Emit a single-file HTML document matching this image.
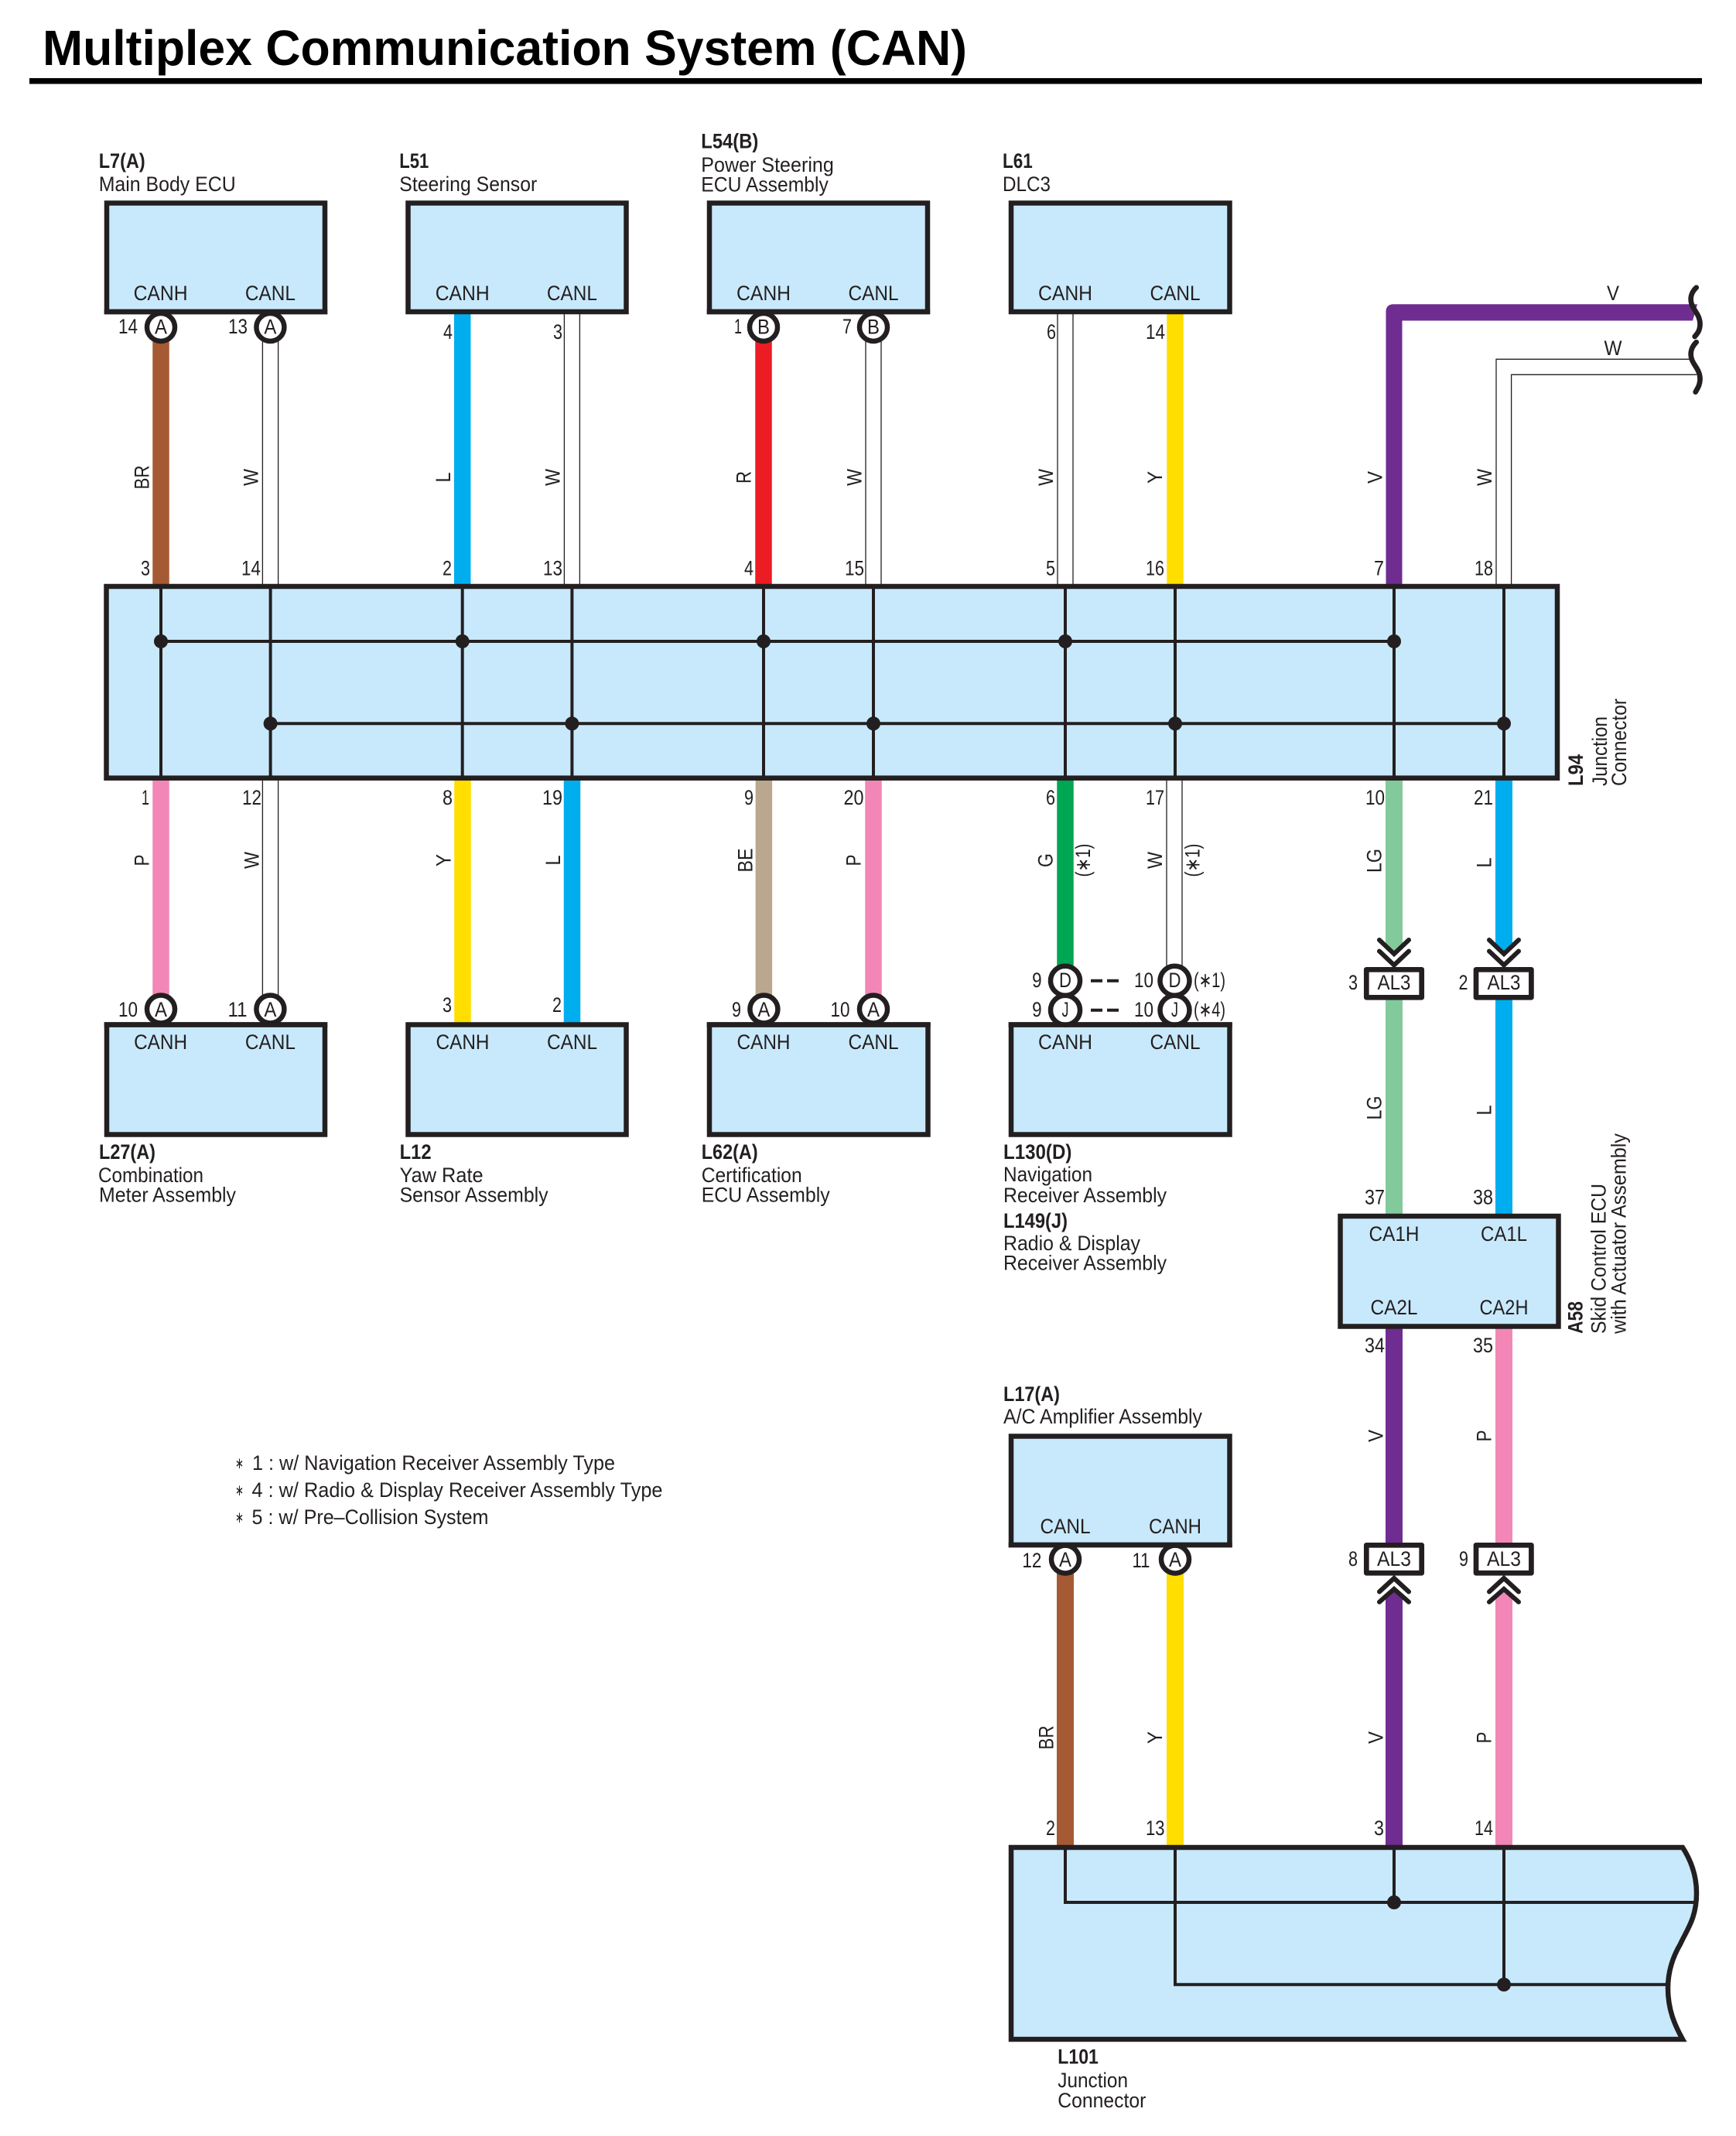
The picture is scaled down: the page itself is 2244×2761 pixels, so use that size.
<!DOCTYPE html>
<html><head><meta charset="utf-8"><style>
html,body{margin:0;padding:0;background:#fff}
svg{display:block}
text{font-family:"Liberation Sans",sans-serif;font-size:27px;fill:#231F20}
.b{font-weight:bold}
.m{text-anchor:middle}
.e{text-anchor:end}
.box{fill:#C8E9FB;stroke:#231F20;stroke-width:6.5;stroke-linejoin:miter}
.c{fill:#fff;stroke:#231F20;stroke-width:6.5}
.w{fill:none;stroke:#231F20;stroke-width:1.3}
.k{fill:none;stroke:#231F20;stroke-width:4}
.d{fill:#231F20}
.al{fill:#fff;stroke:#231F20;stroke-width:6.7;stroke-linejoin:round}
.cv{fill:none;stroke:#231F20;stroke-width:6;stroke-linecap:round;stroke-linejoin:miter}
.dash{stroke:#231F20;stroke-width:4;fill:none}
.sq{fill:none;stroke:#231F20;stroke-width:6.7;stroke-linecap:round}
.cw{fill:none;stroke-width:21.5}
</style></head><body>
<svg xmlns="http://www.w3.org/2000/svg" width="2244" height="2761" viewBox="0 0 2244 2761">
<rect width="2244" height="2761" fill="#fff"/>
<text class="b" x="55" y="84" style="font-size:64px;fill:#000" textLength="1195" lengthAdjust="spacingAndGlyphs">Multiplex Communication System (CAN)</text>
<rect x="38" y="101" width="2162" height="7.5" fill="#000"/>

<!-- colored wires, top row -->
<path class="cw" stroke="#A65A33" d="M208 430V758"/>
<path class="cw" stroke="#00AEEF" d="M597.7 400V758"/>
<path class="cw" stroke="#ED1C24" d="M987 430V758"/>
<path class="cw" stroke="#FFDE00" d="M1519 400V758"/>
<path d="M1791.5 758V403Q1791.5 393.2 1801.5 393.2H2194L2188 414.5H1812.5V758Z" fill="#6F2C91"/>
<!-- white wires, top row -->
<path class="w" d="M339.4 440V755M359.6 440V755M729.4 406V755M749.4 406V755M1119 440V755M1139 440V755M1367 406V755M1387 406V755M1934 755V464.3H2184M1953.6 755V484.3H2193"/>

<!-- colored wires, lower row -->
<path class="cw" stroke="#F287B7" d="M208 1005V1295"/>
<path class="cw" stroke="#FFDE00" d="M598 1005V1325"/>
<path class="cw" stroke="#00AEEF" d="M739.5 1005V1325"/>
<path class="cw" stroke="#BBA78F" d="M987.4 1005V1295"/>
<path class="cw" stroke="#F287B7" d="M1129 1005V1295"/>
<path class="cw" stroke="#00A651" d="M1377 1005V1255"/>
<path class="w" d="M339.4 1009V1290M359.6 1009V1290M1508 1009V1250M1528 1009V1250"/>
<polygon fill="#82CA9C" points="1791,1005 1813,1005 1813,1223 1802,1233 1791,1223"/>
<polygon fill="#00AEEF" points="1933,1005 1955,1005 1955,1223 1944,1233 1933,1223"/>
<rect fill="#82CA9C" x="1791" y="1290" width="22" height="285"/>
<rect fill="#00AEEF" x="1933" y="1290" width="22" height="285"/>
<rect fill="#6F2C91" x="1791" y="1712" width="22" height="285"/>
<rect fill="#F287B7" x="1933" y="1712" width="22" height="285"/>
<polygon fill="#6F2C91" points="1802,2054 1813,2064 1813,2390 1791,2390 1791,2064"/>
<polygon fill="#F287B7" points="1944,2054 1955,2064 1955,2390 1933,2390 1933,2064"/>
<path stroke="#A65A33" stroke-width="22" fill="none" d="M1377 2025V2390"/>
<path stroke="#FFDE00" stroke-width="22" fill="none" d="M1519 2025V2390"/>

<!-- top boxes -->
<rect class="box" x="138" y="262.5" width="282" height="140.5"/>
<rect class="box" x="527.5" y="262.5" width="282" height="140.5"/>
<rect class="box" x="917" y="262.5" width="282" height="140.5"/>
<rect class="box" x="1307" y="262.5" width="282.5" height="140.5"/>

<!-- main junction L94 -->
<rect class="box" x="137.5" y="758" width="1875.5" height="247.7"/>
<path class="k" d="M208 758V1006M349.6 758V1006M597.7 758V1006M739.4 758V1006M987 758V1006M1129 758V1006M1377 758V1006M1519 758V1006M1802 758V1006M1944 758V1006"/>
<path class="k" d="M208 829H1802M349.6 935.3H1944"/>
<g class="d">
<circle cx="208" cy="829" r="9"/><circle cx="597.7" cy="829" r="9"/><circle cx="987" cy="829" r="9"/><circle cx="1377" cy="829" r="9"/><circle cx="1802" cy="829" r="9"/>
<circle cx="349.6" cy="935.3" r="9"/><circle cx="739.4" cy="935.3" r="9"/><circle cx="1129" cy="935.3" r="9"/><circle cx="1519" cy="935.3" r="9"/><circle cx="1944" cy="935.3" r="9"/>
</g>

<!-- lower boxes -->
<rect class="box" x="138" y="1324.5" width="282" height="142"/>
<rect class="box" x="527.5" y="1324.5" width="282" height="142"/>
<rect class="box" x="917" y="1324.5" width="282.5" height="142"/>
<rect class="box" x="1307" y="1324.5" width="282.5" height="142"/>

<!-- A58 -->
<rect class="box" x="1732.5" y="1572" width="282" height="142.5"/>
<!-- L17 -->
<rect class="box" x="1307" y="1856.5" width="282.5" height="140.5"/>

<!-- L101 -->
<path class="box" d="M1307 2388H2175C2186 2405 2193 2425 2193 2447C2193 2480 2180 2495 2172 2513C2162 2530 2156 2548 2156 2570C2156 2598 2165 2618 2175 2636H1307Z"/>
<path class="k" d="M1377 2388V2459H2192M1519 2388V2565.3H2156M1802 2388V2459M1944 2388V2565.3"/>
<circle class="d" cx="1802" cy="2459" r="9"/><circle class="d" cx="1944" cy="2565.3" r="9"/>

<!-- circles -->
<circle class="c" cx="208" cy="423" r="18"/><circle class="c" cx="349.4" cy="423" r="18"/>
<circle class="c" cx="987" cy="423" r="18"/><circle class="c" cx="1129" cy="423" r="18"/>
<circle class="c" cx="208" cy="1304.5" r="18"/><circle class="c" cx="349.4" cy="1304.5" r="18"/>
<circle class="c" cx="987.4" cy="1304.5" r="18"/><circle class="c" cx="1129" cy="1304.5" r="18"/>
<circle class="c" cx="1377" cy="1267.7" r="19"/><circle class="c" cx="1518.5" cy="1267.7" r="19"/>
<circle class="c" cx="1377" cy="1305.7" r="19"/><circle class="c" cx="1518.5" cy="1305.7" r="19"/>
<circle class="c" cx="1377" cy="2015.6" r="18"/><circle class="c" cx="1519" cy="2015.6" r="18"/>
<!-- re-stroke box edges over the circles -->
<path stroke="#231F20" stroke-width="6.5" fill="none" d="M134.7 403H423.2M913.7 403H1202.2M134.7 1324.5H423.2M913.7 1324.5H1202.8M1303.7 1324.5H1592.8M1303.7 1997H1592.8"/>

<!-- dashes -->
<path class="dash" d="M1410 1267.7H1425M1431 1267.7H1446M1410 1305.7H1425M1431 1305.7H1446"/>

<!-- AL3 -->
<rect class="al" x="1766.3" y="1253.3" width="71.4" height="36"/><rect class="al" x="1908" y="1253.3" width="71.4" height="36"/>
<rect class="al" x="1766.3" y="1997.3" width="71.4" height="36"/><rect class="al" x="1908" y="1997.3" width="71.4" height="36"/>
<path class="cv" d="M1783 1215L1802 1233L1821 1215M1783 1229.5L1802 1247.5L1821 1229.5M1925 1215L1944 1233L1963 1215M1925 1229.5L1944 1247.5L1963 1229.5"/>
<path class="cv" d="M1783 2057.5L1802 2040L1821 2057.5M1783 2070.7L1802 2054L1821 2070.7M1925 2057.5L1944 2040L1963 2057.5M1925 2070.7L1944 2054L1963 2070.7"/>

<!-- squiggles -->
<path class="sq" d="M2192.7 371.7C2186 378 2184 386 2187 394C2190 402 2198 408 2197.5 420C2197 428 2194 431 2190.7 435"/>
<path class="sq" d="M2192.7 442.3C2186 449 2184 457 2187 465C2190 473 2198 479 2197.5 491C2197 499 2194 502 2191.7 506.7"/>

<!-- top labels -->
<text class="b" x="127.7" y="217" textLength="60" lengthAdjust="spacingAndGlyphs">L7(A)</text>
<text x="127.7" y="247" textLength="177" lengthAdjust="spacingAndGlyphs">Main Body ECU</text>
<text class="b" x="516.3" y="217" textLength="38" lengthAdjust="spacingAndGlyphs">L51</text>
<text x="516.3" y="247" textLength="178" lengthAdjust="spacingAndGlyphs">Steering Sensor</text>
<text class="b" x="906.3" y="191.3" textLength="74" lengthAdjust="spacingAndGlyphs">L54(B)</text>
<text x="906.3" y="222" textLength="171.5" lengthAdjust="spacingAndGlyphs">Power Steering</text>
<text x="906.3" y="247.5" textLength="164.5" lengthAdjust="spacingAndGlyphs">ECU Assembly</text>
<text class="b" x="1296" y="217" textLength="38.7" lengthAdjust="spacingAndGlyphs">L61</text>
<text x="1296" y="247" textLength="62" lengthAdjust="spacingAndGlyphs">DLC3</text>

<g class="top">
<text class="m" x="207.6" y="388" textLength="70" lengthAdjust="spacingAndGlyphs">CANH</text>
<text class="m" x="349.4" y="388" textLength="65" lengthAdjust="spacingAndGlyphs">CANL</text>
<text class="m" x="597.7" y="388" textLength="70" lengthAdjust="spacingAndGlyphs">CANH</text>
<text class="m" x="739.4" y="388" textLength="65" lengthAdjust="spacingAndGlyphs">CANL</text>
<text class="m" x="987" y="388" textLength="70" lengthAdjust="spacingAndGlyphs">CANH</text>
<text class="m" x="1129" y="388" textLength="65" lengthAdjust="spacingAndGlyphs">CANL</text>
<text class="m" x="1377" y="388" textLength="70" lengthAdjust="spacingAndGlyphs">CANH</text>
<text class="m" x="1519" y="388" textLength="65" lengthAdjust="spacingAndGlyphs">CANL</text>
</g>

<!-- circle letters top -->
<text class="m" x="208" y="431.5" textLength="16" lengthAdjust="spacingAndGlyphs">A</text>
<text class="m" x="349.4" y="431.5" textLength="16" lengthAdjust="spacingAndGlyphs">A</text>
<text class="m" x="987" y="431.5" textLength="16" lengthAdjust="spacingAndGlyphs">B</text>
<text class="m" x="1129" y="431.5" textLength="16" lengthAdjust="spacingAndGlyphs">B</text>

<!-- pin numbers top -->
<text class="e" x="178" y="431" textLength="25" lengthAdjust="spacingAndGlyphs">14</text>
<text class="e" x="320" y="431" textLength="25" lengthAdjust="spacingAndGlyphs">13</text>
<text class="e" x="585" y="438" textLength="12" lengthAdjust="spacingAndGlyphs">4</text>
<text class="e" x="727" y="438" textLength="12" lengthAdjust="spacingAndGlyphs">3</text>
<text class="e" x="959" y="431" textLength="10" lengthAdjust="spacingAndGlyphs">1</text>
<text class="e" x="1101" y="431" textLength="12" lengthAdjust="spacingAndGlyphs">7</text>
<text class="e" x="1365" y="438" textLength="12" lengthAdjust="spacingAndGlyphs">6</text>
<text class="e" x="1506" y="438" textLength="25" lengthAdjust="spacingAndGlyphs">14</text>

<!-- pin numbers at junction top -->
<text class="e" x="194" y="743.5" textLength="12" lengthAdjust="spacingAndGlyphs">3</text>
<text class="e" x="337" y="743.5" textLength="25" lengthAdjust="spacingAndGlyphs">14</text>
<text class="e" x="584" y="743.5" textLength="12" lengthAdjust="spacingAndGlyphs">2</text>
<text class="e" x="727" y="743.5" textLength="25" lengthAdjust="spacingAndGlyphs">13</text>
<text class="e" x="974" y="743.5" textLength="12" lengthAdjust="spacingAndGlyphs">4</text>
<text class="e" x="1117" y="743.5" textLength="25" lengthAdjust="spacingAndGlyphs">15</text>
<text class="e" x="1364" y="743.5" textLength="12" lengthAdjust="spacingAndGlyphs">5</text>
<text class="e" x="1505" y="743.5" textLength="24" lengthAdjust="spacingAndGlyphs">16</text>
<text class="e" x="1789" y="743.5" textLength="13" lengthAdjust="spacingAndGlyphs">7</text>
<text class="e" x="1930" y="743.5" textLength="24" lengthAdjust="spacingAndGlyphs">18</text>

<!-- rotated wire labels top -->
<text class="m" transform="translate(192.5,617) rotate(-90)" textLength="31" lengthAdjust="spacingAndGlyphs">BR</text>
<text class="m" transform="translate(333.5,617) rotate(-90)" textLength="22" lengthAdjust="spacingAndGlyphs">W</text>
<text class="m" transform="translate(582,617) rotate(-90)" textLength="13" lengthAdjust="spacingAndGlyphs">L</text>
<text class="m" transform="translate(723.5,617) rotate(-90)" textLength="22" lengthAdjust="spacingAndGlyphs">W</text>
<text class="m" transform="translate(970.5,617) rotate(-90)" textLength="16" lengthAdjust="spacingAndGlyphs">R</text>
<text class="m" transform="translate(1113.5,617) rotate(-90)" textLength="22" lengthAdjust="spacingAndGlyphs">W</text>
<text class="m" transform="translate(1361,617) rotate(-90)" textLength="22" lengthAdjust="spacingAndGlyphs">W</text>
<text class="m" transform="translate(1502,617) rotate(-90)" textLength="16" lengthAdjust="spacingAndGlyphs">Y</text>
<text class="m" transform="translate(1786.5,617) rotate(-90)" textLength="16" lengthAdjust="spacingAndGlyphs">V</text>
<text class="m" transform="translate(1928,617) rotate(-90)" textLength="22" lengthAdjust="spacingAndGlyphs">W</text>
<text class="m" x="2085" y="388" textLength="16" lengthAdjust="spacingAndGlyphs">V</text>
<text class="m" x="2085" y="459" textLength="23" lengthAdjust="spacingAndGlyphs">W</text>

<!-- L94 labels -->
<text class="b" transform="translate(2046,1016) rotate(-90)" textLength="41" lengthAdjust="spacingAndGlyphs">L94</text>
<text transform="translate(2077,1016) rotate(-90)" textLength="90" lengthAdjust="spacingAndGlyphs">Junction</text>
<text transform="translate(2102,1016) rotate(-90)" textLength="113" lengthAdjust="spacingAndGlyphs">Connector</text>

<!-- pin numbers below junction -->
<text class="e" x="193" y="1040" textLength="10" lengthAdjust="spacingAndGlyphs">1</text>
<text class="e" x="338" y="1040" textLength="25" lengthAdjust="spacingAndGlyphs">12</text>
<text class="e" x="585" y="1040" textLength="13" lengthAdjust="spacingAndGlyphs">8</text>
<text class="e" x="727" y="1040" textLength="26" lengthAdjust="spacingAndGlyphs">19</text>
<text class="e" x="974" y="1040" textLength="12" lengthAdjust="spacingAndGlyphs">9</text>
<text class="e" x="1116.5" y="1040" textLength="26" lengthAdjust="spacingAndGlyphs">20</text>
<text class="e" x="1364" y="1040" textLength="12" lengthAdjust="spacingAndGlyphs">6</text>
<text class="e" x="1505" y="1040" textLength="24" lengthAdjust="spacingAndGlyphs">17</text>
<text class="e" x="1790" y="1040" textLength="25" lengthAdjust="spacingAndGlyphs">10</text>
<text class="e" x="1930" y="1040" textLength="25" lengthAdjust="spacingAndGlyphs">21</text>

<!-- rotated labels lower -->
<text class="m" transform="translate(192.5,1112) rotate(-90)" textLength="15" lengthAdjust="spacingAndGlyphs">P</text>
<text class="m" transform="translate(334.5,1112) rotate(-90)" textLength="22" lengthAdjust="spacingAndGlyphs">W</text>
<text class="m" transform="translate(582.5,1112) rotate(-90)" textLength="16" lengthAdjust="spacingAndGlyphs">Y</text>
<text class="m" transform="translate(724,1112) rotate(-90)" textLength="13" lengthAdjust="spacingAndGlyphs">L</text>
<text class="m" transform="translate(972.5,1112) rotate(-90)" textLength="31" lengthAdjust="spacingAndGlyphs">BE</text>
<text class="m" transform="translate(1112.5,1112) rotate(-90)" textLength="15" lengthAdjust="spacingAndGlyphs">P</text>
<text class="m" transform="translate(1360.5,1112) rotate(-90)" textLength="18" lengthAdjust="spacingAndGlyphs">G</text>
<text class="m" transform="translate(1502,1112) rotate(-90)" textLength="22" lengthAdjust="spacingAndGlyphs">W</text>
<text class="m" transform="translate(1409,1112) rotate(-90)" textLength="43" lengthAdjust="spacingAndGlyphs">(∗1)</text>
<text class="m" transform="translate(1550.5,1112) rotate(-90)" textLength="43" lengthAdjust="spacingAndGlyphs">(∗1)</text>
<text class="m" transform="translate(1785.5,1112.5) rotate(-90)" textLength="31" lengthAdjust="spacingAndGlyphs">LG</text>
<text class="m" transform="translate(1927.5,1115) rotate(-90)" textLength="13" lengthAdjust="spacingAndGlyphs">L</text>
<text class="m" transform="translate(1785.5,1432) rotate(-90)" textLength="31" lengthAdjust="spacingAndGlyphs">LG</text>
<text class="m" transform="translate(1927.5,1435) rotate(-90)" textLength="13" lengthAdjust="spacingAndGlyphs">L</text>

<!-- circle letters bottom row -->
<text class="m" x="208" y="1314" textLength="16" lengthAdjust="spacingAndGlyphs">A</text>
<text class="m" x="349.4" y="1314" textLength="16" lengthAdjust="spacingAndGlyphs">A</text>
<text class="m" x="987.4" y="1314" textLength="16" lengthAdjust="spacingAndGlyphs">A</text>
<text class="m" x="1129" y="1314" textLength="16" lengthAdjust="spacingAndGlyphs">A</text>
<text class="m" x="1377" y="1276" textLength="16" lengthAdjust="spacingAndGlyphs">D</text>
<text class="m" x="1518.5" y="1276" textLength="16" lengthAdjust="spacingAndGlyphs">D</text>
<text class="m" x="1377" y="1314" textLength="9" lengthAdjust="spacingAndGlyphs">J</text>
<text class="m" x="1518.5" y="1314" textLength="9" lengthAdjust="spacingAndGlyphs">J</text>

<!-- pin numbers bottom row -->
<text class="e" x="178" y="1314" textLength="25" lengthAdjust="spacingAndGlyphs">10</text>
<text class="e" x="319.5" y="1314" textLength="25" lengthAdjust="spacingAndGlyphs">11</text>
<text class="e" x="584" y="1308" textLength="12" lengthAdjust="spacingAndGlyphs">3</text>
<text class="e" x="726" y="1308" textLength="12" lengthAdjust="spacingAndGlyphs">2</text>
<text class="e" x="958" y="1314" textLength="12" lengthAdjust="spacingAndGlyphs">9</text>
<text class="e" x="1098.5" y="1314" textLength="25" lengthAdjust="spacingAndGlyphs">10</text>
<text class="e" x="1346.6" y="1276" textLength="12.5" lengthAdjust="spacingAndGlyphs">9</text>
<text class="e" x="1346.6" y="1314" textLength="12.5" lengthAdjust="spacingAndGlyphs">9</text>
<text class="e" x="1491" y="1276" textLength="25" lengthAdjust="spacingAndGlyphs">10</text>
<text class="e" x="1491" y="1314" textLength="25" lengthAdjust="spacingAndGlyphs">10</text>
<text x="1543" y="1276" textLength="41" lengthAdjust="spacingAndGlyphs">(∗1)</text>
<text x="1543" y="1314" textLength="41" lengthAdjust="spacingAndGlyphs">(∗4)</text>

<!-- AL3 text -->
<text class="m" x="1802" y="1279" textLength="43" lengthAdjust="spacingAndGlyphs">AL3</text>
<text class="m" x="1944" y="1279" textLength="43" lengthAdjust="spacingAndGlyphs">AL3</text>
<text class="e" x="1755" y="1279" textLength="12" lengthAdjust="spacingAndGlyphs">3</text>
<text class="e" x="1897.5" y="1279" textLength="12" lengthAdjust="spacingAndGlyphs">2</text>
<text class="m" x="1802" y="2024" textLength="44" lengthAdjust="spacingAndGlyphs">AL3</text>
<text class="m" x="1944" y="2024" textLength="44" lengthAdjust="spacingAndGlyphs">AL3</text>
<text class="e" x="1755" y="2024" textLength="12" lengthAdjust="spacingAndGlyphs">8</text>
<text class="e" x="1898" y="2024" textLength="12" lengthAdjust="spacingAndGlyphs">9</text>

<!-- box labels bottom -->
<text class="m" x="207.6" y="1356" textLength="69" lengthAdjust="spacingAndGlyphs">CANH</text>
<text class="m" x="349.4" y="1356" textLength="65" lengthAdjust="spacingAndGlyphs">CANL</text>
<text class="m" x="598" y="1356" textLength="69" lengthAdjust="spacingAndGlyphs">CANH</text>
<text class="m" x="739.5" y="1356" textLength="65" lengthAdjust="spacingAndGlyphs">CANL</text>
<text class="m" x="987" y="1356" textLength="69" lengthAdjust="spacingAndGlyphs">CANH</text>
<text class="m" x="1129" y="1356" textLength="65" lengthAdjust="spacingAndGlyphs">CANL</text>
<text class="m" x="1377" y="1356" textLength="70" lengthAdjust="spacingAndGlyphs">CANH</text>
<text class="m" x="1519" y="1356" textLength="65" lengthAdjust="spacingAndGlyphs">CANL</text>

<!-- bottom names -->
<text class="b" x="128" y="1498" textLength="73" lengthAdjust="spacingAndGlyphs">L27(A)</text>
<text x="127" y="1528" textLength="136" lengthAdjust="spacingAndGlyphs">Combination</text>
<text x="128" y="1553.7" textLength="177" lengthAdjust="spacingAndGlyphs">Meter Assembly</text>
<text class="b" x="516.6" y="1498" textLength="41" lengthAdjust="spacingAndGlyphs">L12</text>
<text x="516.6" y="1528" textLength="108" lengthAdjust="spacingAndGlyphs">Yaw Rate</text>
<text x="516.6" y="1553.7" textLength="192" lengthAdjust="spacingAndGlyphs">Sensor Assembly</text>
<text class="b" x="906.7" y="1498" textLength="73" lengthAdjust="spacingAndGlyphs">L62(A)</text>
<text x="906.7" y="1528" textLength="130" lengthAdjust="spacingAndGlyphs">Certification</text>
<text x="906.7" y="1553.7" textLength="166" lengthAdjust="spacingAndGlyphs">ECU Assembly</text>
<text class="b" x="1297" y="1498" textLength="88.4" lengthAdjust="spacingAndGlyphs">L130(D)</text>
<text x="1297" y="1527" textLength="115" lengthAdjust="spacingAndGlyphs">Navigation</text>
<text x="1297" y="1554" textLength="211" lengthAdjust="spacingAndGlyphs">Receiver Assembly</text>
<text class="b" x="1297" y="1587" textLength="83" lengthAdjust="spacingAndGlyphs">L149(J)</text>
<text x="1297" y="1616" textLength="177" lengthAdjust="spacingAndGlyphs">Radio &amp; Display</text>
<text x="1297" y="1641.7" textLength="211" lengthAdjust="spacingAndGlyphs">Receiver Assembly</text>

<!-- A58 -->
<text class="e" x="1790" y="1556.5" textLength="26" lengthAdjust="spacingAndGlyphs">37</text>
<text class="e" x="1930" y="1556.5" textLength="26" lengthAdjust="spacingAndGlyphs">38</text>
<text class="e" x="1790" y="1748" textLength="26" lengthAdjust="spacingAndGlyphs">34</text>
<text class="e" x="1930" y="1748" textLength="26" lengthAdjust="spacingAndGlyphs">35</text>
<text class="m" x="1802" y="1604" textLength="65" lengthAdjust="spacingAndGlyphs">CA1H</text>
<text class="m" x="1944" y="1604" textLength="60" lengthAdjust="spacingAndGlyphs">CA1L</text>
<text class="m" x="1802" y="1699" textLength="61" lengthAdjust="spacingAndGlyphs">CA2L</text>
<text class="m" x="1944" y="1699" textLength="63" lengthAdjust="spacingAndGlyphs">CA2H</text>
<text class="b" transform="translate(2045.5,1724) rotate(-90)" textLength="42" lengthAdjust="spacingAndGlyphs">A58</text>
<text transform="translate(2075.5,1724) rotate(-90)" textLength="194" lengthAdjust="spacingAndGlyphs">Skid Control ECU</text>
<text transform="translate(2101.5,1724) rotate(-90)" textLength="259" lengthAdjust="spacingAndGlyphs">with Actuator Assembly</text>

<!-- footnotes -->
<text x="304" y="1898" style="font-size:20px" textLength="11" lengthAdjust="spacingAndGlyphs">∗</text>
<text x="304" y="1933" style="font-size:20px" textLength="11" lengthAdjust="spacingAndGlyphs">∗</text>
<text x="304" y="1968" style="font-size:20px" textLength="11" lengthAdjust="spacingAndGlyphs">∗</text>
<text x="326" y="1900" textLength="469" lengthAdjust="spacingAndGlyphs">1 : w/ Navigation Receiver Assembly Type</text>
<text x="325.5" y="1935" textLength="531" lengthAdjust="spacingAndGlyphs">4 : w/ Radio &amp; Display Receiver Assembly Type</text>
<text x="325.5" y="1970" textLength="306" lengthAdjust="spacingAndGlyphs">5 : w/ Pre–Collision System</text>

<!-- L17 -->
<text class="b" x="1297" y="1811" textLength="73" lengthAdjust="spacingAndGlyphs">L17(A)</text>
<text x="1297" y="1840" textLength="257" lengthAdjust="spacingAndGlyphs">A/C Amplifier Assembly</text>
<text class="m" x="1377" y="1982" textLength="65" lengthAdjust="spacingAndGlyphs">CANL</text>
<text class="m" x="1519" y="1982" textLength="68" lengthAdjust="spacingAndGlyphs">CANH</text>
<text class="m" x="1377" y="2025" textLength="16" lengthAdjust="spacingAndGlyphs">A</text>
<text class="m" x="1519" y="2025" textLength="16" lengthAdjust="spacingAndGlyphs">A</text>
<text class="e" x="1346.4" y="2026" textLength="25" lengthAdjust="spacingAndGlyphs">12</text>
<text class="e" x="1486.5" y="2026" textLength="23" lengthAdjust="spacingAndGlyphs">11</text>
<text class="m" transform="translate(1787.5,1856) rotate(-90)" textLength="16" lengthAdjust="spacingAndGlyphs">V</text>
<text class="m" transform="translate(1927.5,1856) rotate(-90)" textLength="15" lengthAdjust="spacingAndGlyphs">P</text>
<text class="m" transform="translate(1361.5,2246) rotate(-90)" textLength="31" lengthAdjust="spacingAndGlyphs">BR</text>
<text class="m" transform="translate(1502,2246) rotate(-90)" textLength="16" lengthAdjust="spacingAndGlyphs">Y</text>
<text class="m" transform="translate(1787.5,2246) rotate(-90)" textLength="16" lengthAdjust="spacingAndGlyphs">V</text>
<text class="m" transform="translate(1927.5,2246) rotate(-90)" textLength="15" lengthAdjust="spacingAndGlyphs">P</text>
<text class="e" x="1364" y="2372" textLength="12" lengthAdjust="spacingAndGlyphs">2</text>
<text class="e" x="1505.5" y="2372" textLength="24.5" lengthAdjust="spacingAndGlyphs">13</text>
<text class="e" x="1789" y="2372" textLength="13" lengthAdjust="spacingAndGlyphs">3</text>
<text class="e" x="1930" y="2372" textLength="24" lengthAdjust="spacingAndGlyphs">14</text>

<!-- L101 -->
<text class="b" x="1367.3" y="2667.5" textLength="52.6" lengthAdjust="spacingAndGlyphs">L101</text>
<text x="1367.3" y="2698" textLength="90.7" lengthAdjust="spacingAndGlyphs">Junction</text>
<text x="1367.3" y="2724" textLength="114" lengthAdjust="spacingAndGlyphs">Connector</text>
</svg>
</body></html>
